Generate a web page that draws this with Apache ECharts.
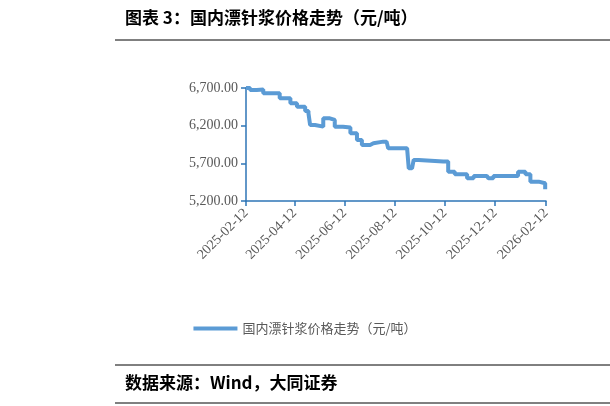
<!DOCTYPE html>
<html><head><meta charset="utf-8">
<script src="https://cdn.jsdelivr.net/npm/echarts@6/dist/echarts.min.js"></script>
<style>html,body{margin:0;padding:0;background:#fff}#chart{width:610px;height:406px}</style>
</head><body><div id="chart"></div>
<script>
var dates = ['2025-02-12','2025-02-17','2025-02-25','2025-03-05','2025-03-17','2025-03-25','2025-04-07','2025-04-15','2025-04-25','2025-04-29','2025-05-01','2025-05-07','2025-05-17','2025-05-25','2025-05-31','2025-06-10','2025-06-19','2025-06-27','2025-07-03','2025-07-13','2025-07-17','2025-07-29','2025-08-02','2025-08-04','2025-08-27','2025-08-29','2025-09-02','2025-09-04','2025-09-10','2025-10-10','2025-10-16','2025-10-24','2025-11-08','2025-11-16','2025-12-02','2025-12-04','2025-12-10','2026-01-03','2026-01-09','2026-01-18','2026-01-24','2026-02-03','2026-02-11'];
var prices = [6700,6673,6680,6630,6630,6563,6497,6452,6395,6363,6209,6187,6298,6276,6187,6176,6099,6010,5944,5966,5988,5988,6010,5900,5900,5634,5612,5745,5723,5723,5589,5556,5502,5532,5532,5502,5532,5532,5589,5556,5457,5435,5356];
var tickDates = ['2025-02-12','2025-04-12','2025-06-12','2025-08-12','2025-10-12','2025-12-12','2026-02-12'];
var seriesName = '国内漂针浆价格走势（元/吨）';

function ts(d){ var p = d.split('-'); return Date.UTC(+p[0], +p[1]-1, +p[2]); }
var ticks = tickDates.map(ts);
var chart = echarts.init(document.getElementById('chart'));
chart.setOption({
  animation: false,
  grid: {left: 246, right: 64, top: 88, bottom: 205},
  xAxis: {
    type: 'value', min: ticks[0], max: ticks[ticks.length-1],
    axisLine: {lineStyle: {color: '#2e75b6', width: 1.5}},
    axisTick: {show: true, customValues: ticks, length: 5, lineStyle: {color: '#2e75b6', width: 1.5}},
    axisLabel: {customValues: ticks, rotate: 45, color: '#595959', fontFamily: 'Liberation Serif', fontSize: 14, margin: 10,
      formatter: function(v){ var d = new Date(v); return d.getUTCFullYear()+'-'+String(d.getUTCMonth()+1).padStart(2,'0')+'-'+String(d.getUTCDate()).padStart(2,'0'); }},
    splitLine: {show: false}
  },
  yAxis: {
    type: 'value', min: 5200, max: 6700, interval: 500,
    axisLine: {show: true, lineStyle: {color: '#2e75b6', width: 1.5}},
    axisTick: {show: true, length: 5, lineStyle: {color: '#2e75b6', width: 1.5}},
    axisLabel: {color: '#595959', fontFamily: 'Liberation Serif', fontSize: 14, margin: 8,
      formatter: function(v){ return v.toLocaleString('en-US', {minimumFractionDigits: 2}); }},
    splitLine: {show: false}
  },
  legend: {bottom: 66, left: 'center', itemWidth: 44, itemHeight: 4, icon: 'rect',
    textStyle: {color: '#595959', fontSize: 13, fontFamily: 'Noto Sans CJK SC'}, data: [seriesName]},
  series: [{
    name: seriesName, type: 'line', step: 'end', showSymbol: false,
    lineStyle: {color: '#5b9bd5', width: 4}, itemStyle: {color: '#5b9bd5'},
    data: dates.map(function(d, i){ return [ts(d), prices[i]]; })
  }],
  graphic: [
    {type: 'text', left: 125, top: 9, style: {text: '图表 3：国内漂针浆价格走势（元/吨）', font: 'bold 17px "Noto Sans CJK SC"', fill: '#000'}},
    {type: 'line', shape: {x1: 115, y1: 40, x2: 610, y2: 40}, style: {stroke: '#000', lineWidth: 1}},
    {type: 'line', shape: {x1: 115, y1: 365, x2: 610, y2: 365}, style: {stroke: '#000', lineWidth: 1}},
    {type: 'text', left: 125, top: 374, style: {text: '数据来源：Wind，大同证券', font: 'bold 17px "Noto Sans CJK SC"', fill: '#000'}},
    {type: 'line', shape: {x1: 115, y1: 403, x2: 610, y2: 403}, style: {stroke: '#000', lineWidth: 1}}
  ]
});
</script></body></html>
